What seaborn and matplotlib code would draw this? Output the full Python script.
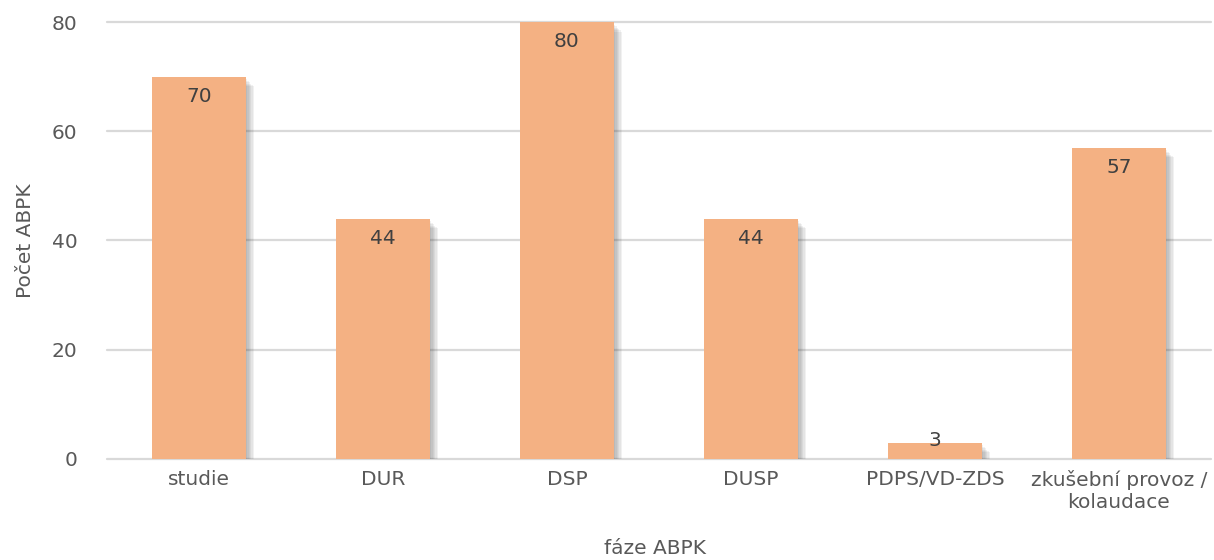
import matplotlib
matplotlib.use("Agg")
import matplotlib.pyplot as plt
import matplotlib.patheffects as pe
import seaborn as sns
import pandas as pd

# data
phases = ["studie", "DUR", "DSP", "DUSP", "PDPS/VD-ZDS", "zkušební provoz /\nkolaudace"]
counts = [70, 44, 80, 44, 3, 57]

bar_color = "#F4B183"
grid_color = "#D9D9D9"
tick_color = "#595959"
label_color = "#404040"
fs = 14.5

sns.set_theme(style="white")
plt.rcParams["font.family"] = ["DejaVu Sans"]

df = pd.DataFrame({"phase": phases, "count": counts})

fig = plt.figure(figsize=(12.14, 5.6), dpi=100)
ax = fig.add_axes([0.088, 0.1804, 0.9095, 0.7803])

sns.barplot(data=df, x="phase", y="count", color=bar_color, saturation=1,
            width=0.51, ax=ax, zorder=3)

# soft drop shadow like the office chart (a few stacked offsets = blur)
shadow = [pe.SimplePatchShadow(offset=(d, -d - 1), shadow_rgbFace="#404040", alpha=0.07)
          for d in (1, 2, 3, 4, 5, 6)]
for patch in ax.patches:
    patch.set_edgecolor("none")
    patch.set_path_effects(shadow + [pe.Normal()])

ax.set_ylim(0, 80)
ax.set_xlim(-0.5, len(phases) - 0.5)
ax.set_yticks([0, 20, 40, 60, 80])
ax.yaxis.grid(True, color=grid_color, linewidth=1.6, zorder=0)
ax.set_axisbelow(True)
for line in ax.get_ygridlines():
    line.set_clip_on(False)
for side in ["top", "right", "left", "bottom"]:
    ax.spines[side].set_visible(False)

ax.tick_params(axis="y", length=0, pad=21, labelsize=fs, labelcolor=tick_color)
ax.tick_params(axis="x", length=0, pad=8, labelsize=fs, labelcolor=tick_color)

ax.set_xlabel("fáze ABPK", fontsize=fs, color=tick_color, va="center")
ax.xaxis.set_label_coords(0.4965, -0.206)
ax.set_ylabel("Počet ABPK", fontsize=fs, color=tick_color, va="center")
ax.yaxis.set_label_coords(-0.074, 0.5)

# value labels inside the bar end
for i, v in enumerate(counts):
    y = v - 3.6 if v > 10 else v + 0.4
    ax.text(i, y, str(v), ha="center", va="center", fontsize=fs,
            color=label_color, zorder=5)

fig.savefig("out.png", dpi=100)
